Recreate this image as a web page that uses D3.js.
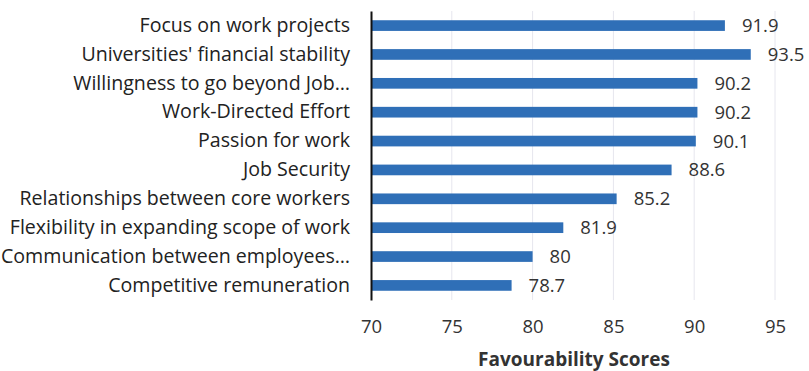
<!DOCTYPE html>
<html>
<head>
<meta charset="utf-8">
<script src="https://cdn.jsdelivr.net/npm/d3@7"></script>
<style>
  html, body { margin: 0; padding: 0; background: #fff; }
  svg { display: block; font-family: "Open Sans", sans-serif; }
</style>
</head>
<body>
<svg id="chart" width="809" height="371"></svg>
<script>
// Favourability scores by engagement factor
const categories = [
  "Focus on work projects",
  "Universities' financial stability",
  "Willingness to go beyond Job…",
  "Work-Directed Effort",
  "Passion for work",
  "Job Security",
  "Relationships between core workers",
  "Flexibility in expanding scope of work",
  "Communication between employees…",
  "Competitive remuneration"
];
const scores = [91.9, 93.5, 90.2, 90.2, 90.1, 88.6, 85.2, 81.9, 80, 78.7];
const scoreLabels = ["91.9", "93.5", "90.2", "90.2", "90.1", "88.6", "85.2", "81.9", "80", "78.7"];
const xTicks = [70, 75, 80, 85, 90, 95];
const axisTitle = "Favourability Scores";

const svg = d3.select("#chart");
const plotLeft = 371, plotRight = 775, plotTop = 11, plotBottom = 300;
const fontFamily = "'Open Sans', sans-serif";
const numberSize = 18.5;
const labelSize = 19.6;

const x = d3.scaleLinear().domain([70, 95]).range([plotLeft, plotRight]);
const y = d3.scaleBand().domain(categories).range([plotTop, plotBottom]).paddingInner(0.63).paddingOuter(0.32);

// light vertical gridlines
svg.append("g")
  .selectAll("line")
  .data(xTicks.slice(1))
  .join("line")
  .attr("x1", d => x(d)).attr("x2", d => x(d))
  .attr("y1", plotTop).attr("y2", plotBottom)
  .attr("stroke", "#e6e6ee").attr("stroke-width", 1);

// bars
svg.append("g")
  .selectAll("rect")
  .data(scores)
  .join("rect")
  .attr("x", x(70))
  .attr("y", (d, i) => y(categories[i]))
  .attr("width", d => x(d) - x(70))
  .attr("height", y.bandwidth())
  .attr("fill", "#2f6fb7");

// value labels
svg.append("g")
  .selectAll("text")
  .data(scores)
  .join("text")
  .attr("x", d => x(d) + 17)
  .attr("y", (d, i) => y(categories[i]) + y.bandwidth() / 2)
  .attr("dy", "0.35em")
  .attr("font-size", numberSize)
  .attr("fill", "#333")
  .text((d, i) => scoreLabels[i]);

// category axis
const yAxis = svg.append("g")
  .attr("transform", `translate(${plotLeft},0)`)
  .call(d3.axisLeft(y).tickSize(0).tickPadding(21));
yAxis.select(".domain").attr("stroke", "#111").attr("stroke-width", 2);
yAxis.selectAll("text").attr("font-size", labelSize).attr("fill", "#222")
  .attr("font-family", fontFamily);

// value axis
const xAxis = svg.append("g")
  .attr("transform", `translate(0,${plotBottom})`)
  .call(d3.axisBottom(x).tickValues(xTicks).tickSize(0).tickPadding(20));
xAxis.select(".domain").remove();
xAxis.selectAll("text").attr("font-size", numberSize).attr("fill", "#333")
  .attr("font-family", fontFamily);

// axis title
svg.append("text")
  .attr("x", (plotLeft + plotRight) / 2 + 1)
  .attr("y", 366)
  .attr("text-anchor", "middle")
  .attr("font-size", 19)
  .attr("font-weight", "bold")
  .attr("fill", "#333")
  .text(axisTitle);
</script>
</body>
</html>
